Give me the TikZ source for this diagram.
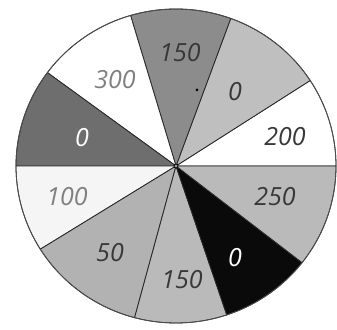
\documentclass[tikz,border=0pt]{standalone}
\usepackage{fontspec}
\setmainfont{Open Sans}
\begin{document}
\begin{tikzpicture}[x=1pt,y=1pt,
  lab/.style={font=\fontsize{25}{25}\selectfont\itshape, text=black!78, inner sep=0pt},
  labl/.style={lab, text=black!50},
  labw/.style={lab, text=white},
  edge/.style={draw=black!85, line width=0.8pt}]
\useasboundingbox (0,0) rectangle (337,329);
\fill[white] (0,0) rectangle (337,329);
\begin{scope}[shift={(176,163)}]
\def\rx{160}\def\ry{157}
\foreach \a/\b/\c in {0/33/white, 33/70/black!25, 70/106.5/black!45, 106.5/143.5/white, 143.5/180/black!57, 180/212/black!4, 212/255/black!30, 255/288.5/black!27, 288.5/322/black!96, 322/360/black!27}{
  \fill[\c, edge] (0,0) -- (\a:\rx pt and \ry pt) arc[start angle=\a, end angle=\b, x radius=\rx, y radius=\ry] -- cycle;
}
\draw[edge, draw=black!70] (0,0) ellipse[x radius=\rx, y radius=\ry];
\coordinate (ctr) at (0,0);
\draw[black, line width=0.8pt, fill=black!40] (ctr) circle[radius=2];
\end{scope}
\node[lab] (t150) at (180,276) {150};
\node[labl] (t300) at (115,249) {300};
\node[lab] (t0a) at (235,237) {0};
\node[lab] (t200) at (285,192) {200};
\node[labw] (t0b) at (82,191) {0};
\node[labl] (t100) at (67,132) {100};
\node[lab] (t250) at (275,132) {250};
\node[lab] (t50) at (110,76) {50};
\node[lab] (t150b) at (182,49) {150};
\node[labw] (t0c) at (235,71) {0};
\fill[black] (197,239) circle[radius=1.5];
\end{tikzpicture}
\end{document}
